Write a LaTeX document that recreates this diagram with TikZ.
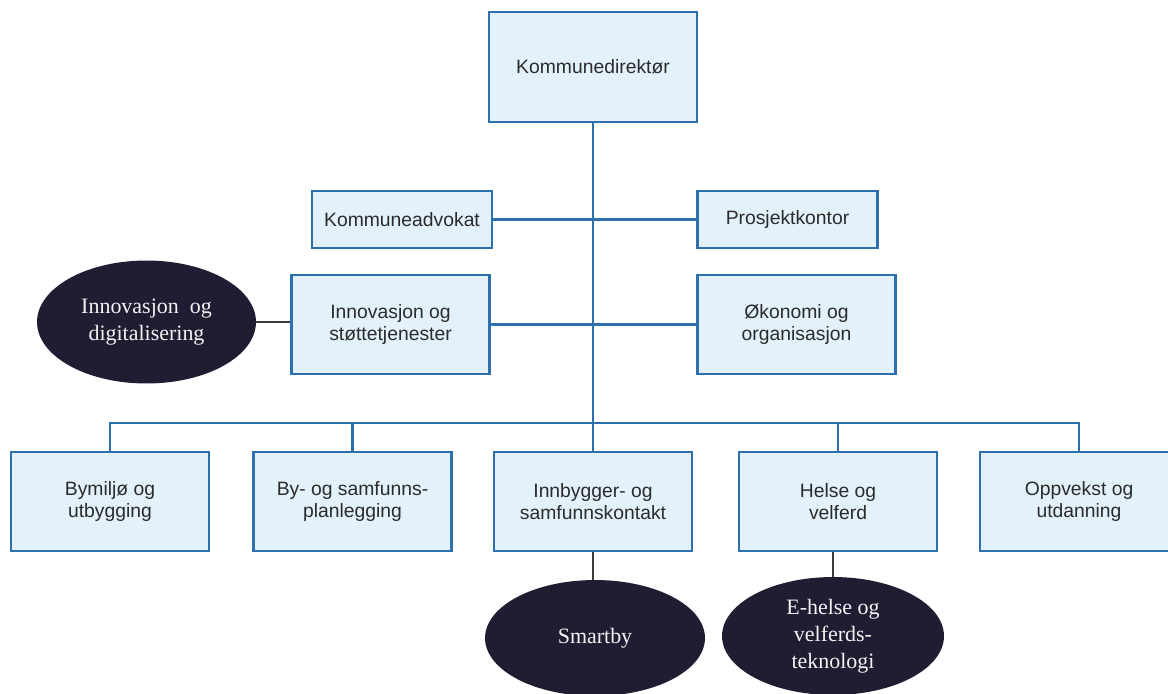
\documentclass[tikz,border=0pt]{standalone}
\usepackage{fontspec}
\setmainfont{Liberation Serif}
\setsansfont{Liberation Sans}
\usepackage{tikz}
\usetikzlibrary{positioning, shapes.geometric}
\definecolor{boxline}{HTML}{2E6FAE}
\definecolor{boxfill}{HTML}{E2F1FA}
\definecolor{navy}{HTML}{221C33}
\definecolor{textgray}{HTML}{2B2B2B}
\definecolor{linkgray}{HTML}{3A3A40}

\begin{document}
\begin{tikzpicture}[
    x=0.02cm, y=-0.02cm,
    every node/.style={font=\sffamily\fontsize{11}{12.5}\selectfont, text=textgray, align=center},
    unit/.style={rectangle, draw=boxline, fill=boxfill, line width=1.6pt, minimum width=3.96cm, minimum height=1.98cm},
    staff/.style={unit, minimum width=3.6cm, minimum height=1.14cm},
    focus/.style={ellipse, fill=navy, text=white!90!gray, inner sep=0pt, font=\rmfamily\fontsize{12.5}{15.5}\selectfont},
    link/.style={draw=boxline, line width=1.5pt},
    sublink/.style={draw=linkgray, line width=1pt}
]
\useasboundingbox (0,0) rectangle (1168,693);

% Top
\node[unit, minimum width=4.16cm, minimum height=2.2cm] (dir) at (593,67) {Kommunedirektør};

% Staff units
\node[staff] (advokat)  at (402,219.5) {Kommuneadvokat};
\node[staff] (prosjekt) at (787.5,219.5) {Prosjektkontor};
\node[unit] (innov)  at (390.5,324.5) {Innovasjon og\\støttetjenester};
\node[unit] (okonomi) at (796.5,324.5) {Økonomi og\\organisasjon};

% Sectors
\node[unit] (bymiljo)   at (110,501.5)  {Bymiljø og\\utbygging};
\node[unit] (plan)      at (352.5,501.5) {By- og samfunns-\\planlegging};
\node[unit] (innbygger) at (593,501.5)  {Innbygger- og\\samfunnskontakt};
\node[unit] (helse)     at (838,501.5)  {Helse og\\velferd};
\node[unit] (oppvekst)  at (1079,501.5) {Oppvekst og\\utdanning};

% Focus areas
\node[focus, minimum width=4.38cm, minimum height=2.46cm] (innovdig) at (146.5,322) {Innovasjon\ \ og\\digitalisering};
\node[focus, minimum width=4.4cm, minimum height=2.32cm] (smartby) at (595,638) {Smartby};
\node[focus, minimum width=4.44cm, minimum height=2.36cm] (ehelse) at (833,636) {E-helse og\\velferds-\\teknologi};

\coordinate (bus) at (593,423);

% Lines
\draw[link] (dir) -- (innbygger);
\draw[link] (advokat) -- (prosjekt);
\draw[link] (innov.east |- okonomi.west) -- (okonomi.west);
\draw[link] (bymiljo.north) |- (bus) -| (oppvekst.north);
\draw[link] (plan.north) -- (plan.north |- bus);
\draw[link] (helse.north) -- (helse.north |- bus);

\draw[sublink] (innovdig.east) -- (innov.west |- innovdig.east);
\draw[sublink] (smartby.north -| innbygger.south) -- (innbygger.south);
\draw[sublink] (ehelse.north) -- (ehelse.north |- helse.south);
\end{tikzpicture}
\end{document}
